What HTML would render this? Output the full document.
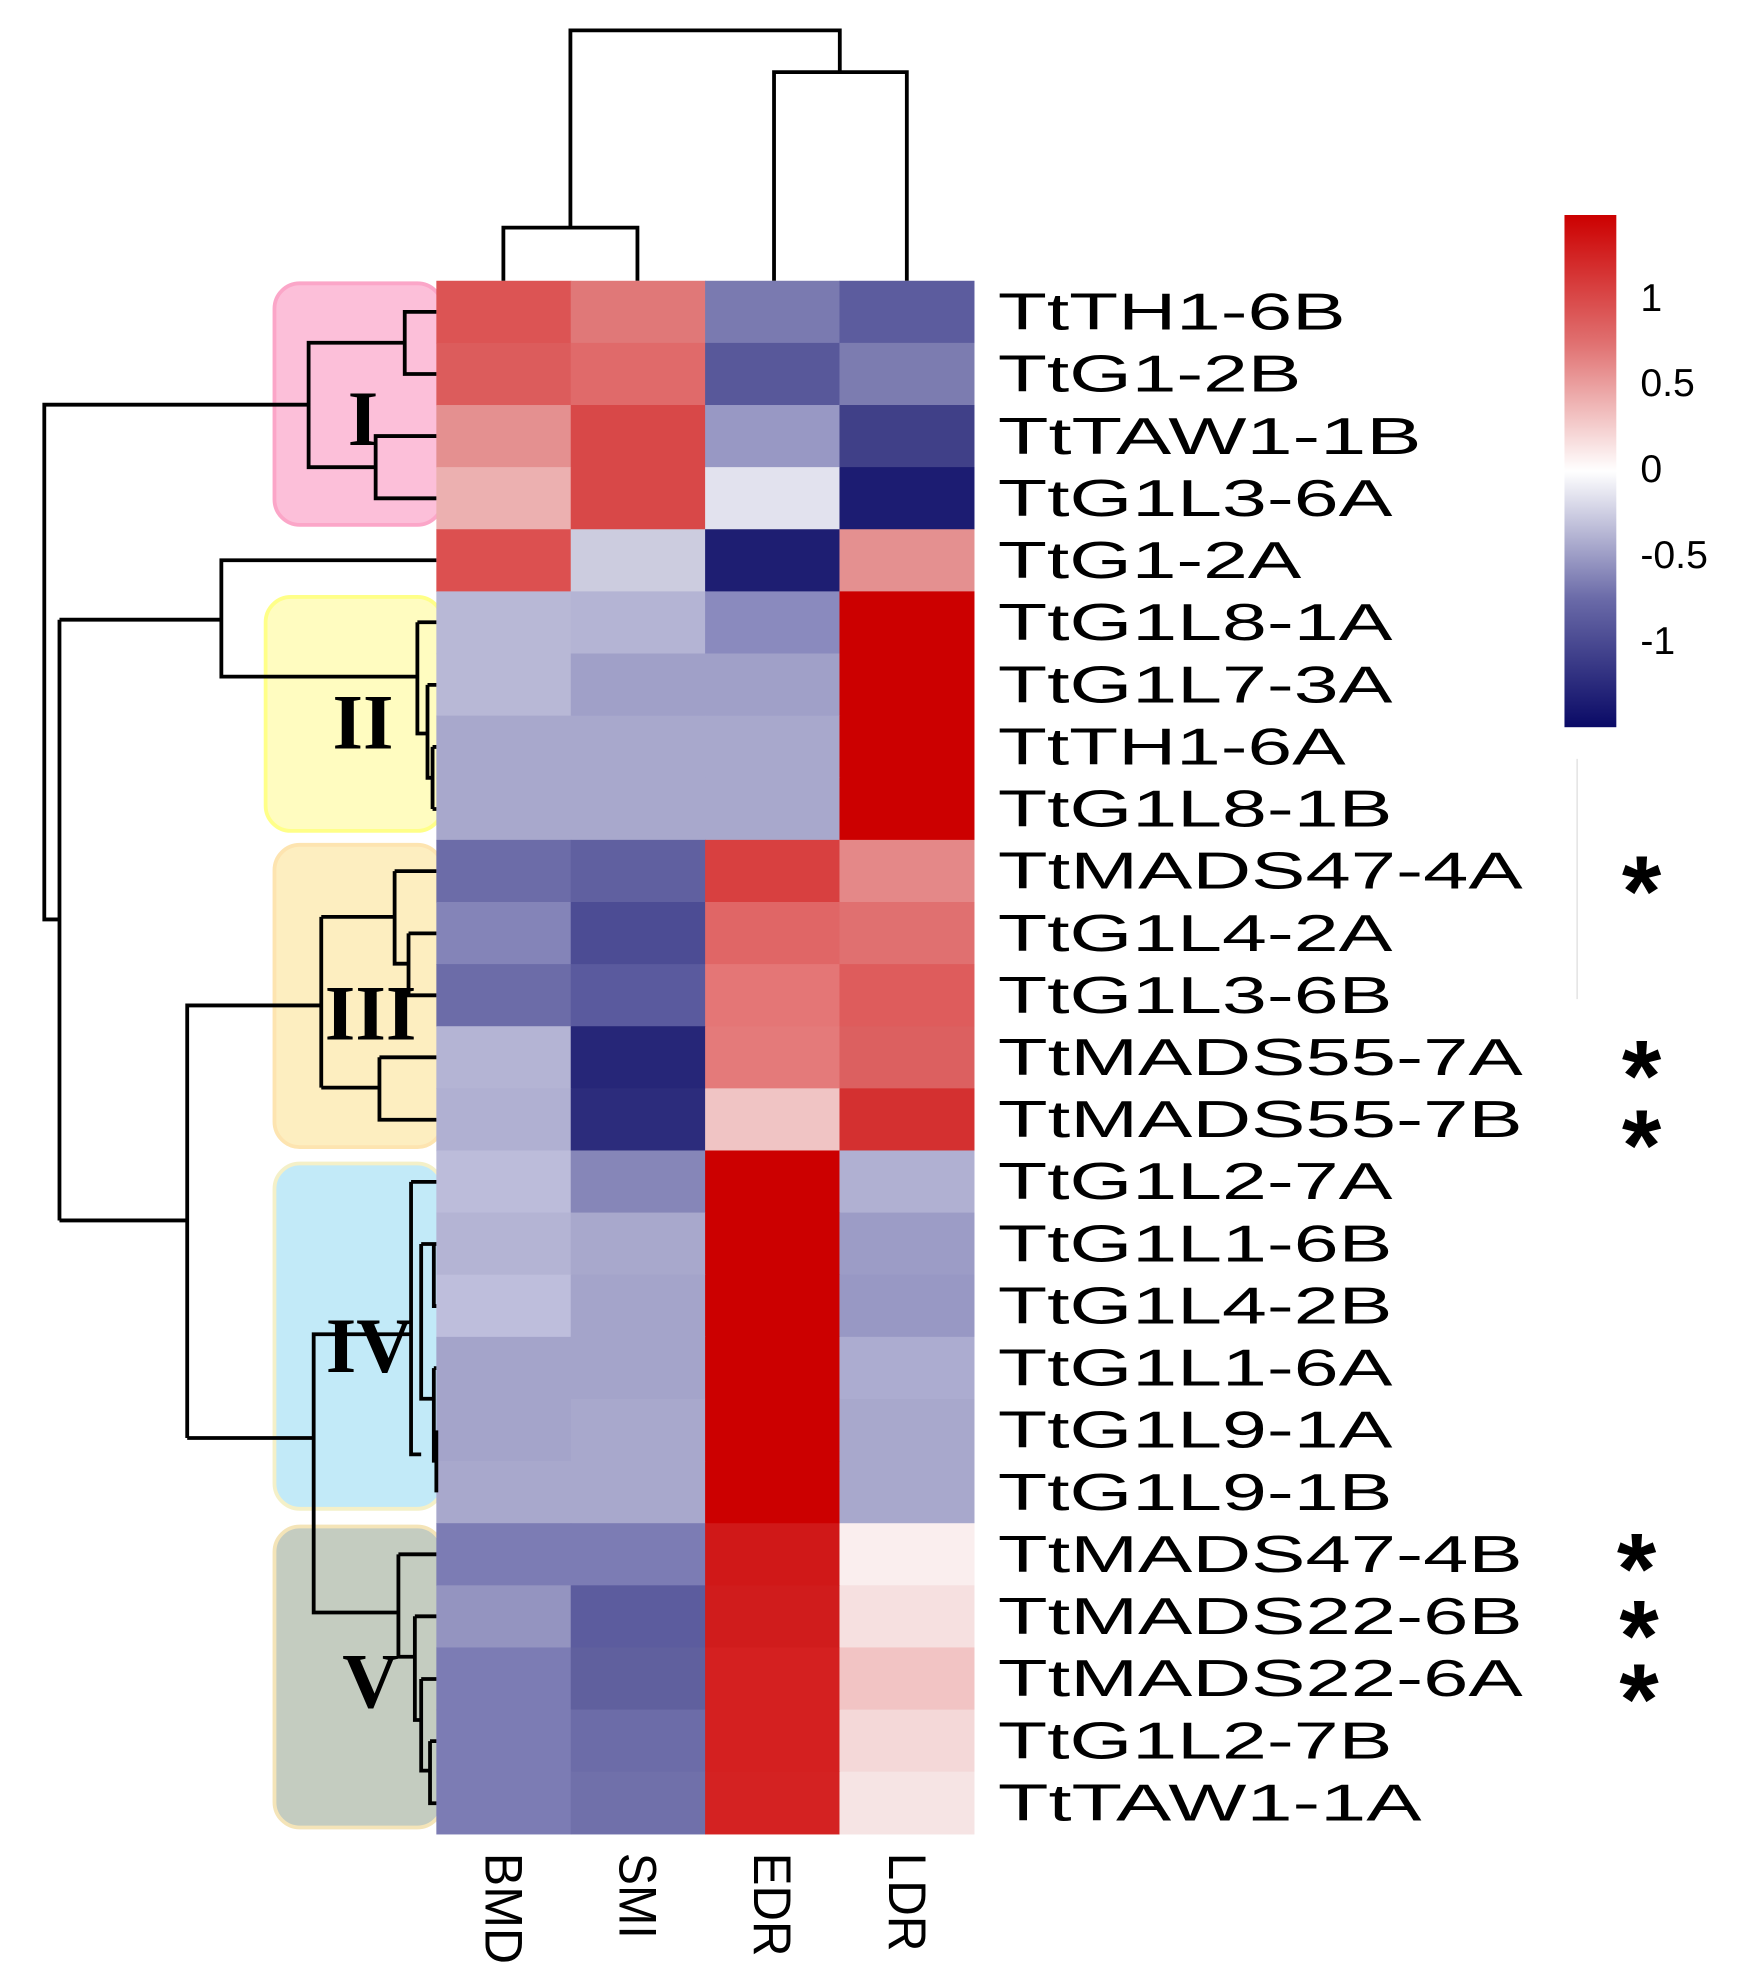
<!DOCTYPE html>
<html><head><meta charset="utf-8"><style>html,body{margin:0;padding:0;background:#fff}svg{display:block}</style></head>
<body>
<svg width="1758" height="1978" viewBox="0 0 1390 1564" xmlns="http://www.w3.org/2000/svg">
<g stroke-width="3">
<rect x="217" y="224" width="133" height="191" rx="20" fill="#fcbfd9" stroke="#fba6c8"/>
<rect x="210" y="472" width="140" height="185" rx="20" fill="#fffcc0" stroke="#ffff88"/>
<rect x="217" y="668" width="133" height="239" rx="20" fill="#fdeec0" stroke="#fde4b0"/>
<rect x="217" y="920" width="133" height="273" rx="20" fill="#c2eaf8" stroke="#f4f0c8"/>
<rect x="217" y="1207" width="133" height="238" rx="20" fill="#c4ccc0" stroke="#f4e4b8"/>
</g>
<g font-family="'Liberation Serif',serif" font-weight="bold" font-size="62" text-anchor="middle" fill="#000">
<text x="287" y="352">I</text><text x="287" y="592">II</text><text x="293" y="822">III</text><text x="292" y="1085">IV</text><text x="293" y="1350">V</text>
</g>
<g id="hm"></g>
<g fill="none" stroke="#000" stroke-width="3">
<path d="M398 222V180H504V222M612 222V57H717V222M451 180V24H664V57"/>
<path d="M345 246.6H320V295.7H345M345 344.8H297V394H345M320 271H244V369.4H297M244 320H35V727H47"/>
<path d="M47 490V965M47 490H175V443H345M175 443V535H330M330 492H345M330 492V580H338M338 541.5H345M338 541.5V615H342M342 590.6H345M342 639.7H345M342 590.6V639.7"/>
<path d="M47 965H148V795H254M148 965V1137M254 725V860M254 725H312M312 688.8H345M312 688.8V762H323M323 738H345M323 738V787H345M254 860H300M300 836H345M300 836V885.4H345"/>
<path d="M148 1137H248V1055H325M248 1137V1275H315M325 934.5H345M325 934.5V1150H333M333 983.6H343V1032.7H345M343 983.6H345M333 983.6V1106H343M343 1081.8H345M343 1081.8V1155H345M345 1131V1180"/>
<path d="M315 1229H345M315 1229V1310H328M328 1278H345M328 1278V1360H333M333 1327.6H345M333 1327.6V1400H340M340 1376.7H345M340 1376.7V1425.8H345"/>
</g>
<g font-family="'Liberation Sans',sans-serif" font-size="41" fill="#000" id="lbl"></g>
<g font-family="'Liberation Sans',sans-serif" font-size="42" fill="#000">
<text transform="translate(384,1465) rotate(90)" textLength="88" lengthAdjust="spacingAndGlyphs">BMD</text>
<text transform="translate(490,1465) rotate(90)" textLength="68" lengthAdjust="spacingAndGlyphs">SMI</text>
<text transform="translate(596,1465) rotate(90)" textLength="82" lengthAdjust="spacingAndGlyphs">EDR</text>
<text transform="translate(703,1465) rotate(90)" textLength="78" lengthAdjust="spacingAndGlyphs">LDR</text>
</g>
<defs><linearGradient id="cb" x1="0" y1="0" x2="0" y2="1">
<stop offset="0" stop-color="#cc0000"/><stop offset="0.25" stop-color="#e07070"/><stop offset="0.5" stop-color="#ffffff"/><stop offset="0.75" stop-color="#6a6aa8"/><stop offset="1" stop-color="#0a0a66"/></linearGradient></defs>
<rect x="1237" y="170" width="41" height="405" fill="url(#cb)"/>
<g font-family="'Liberation Sans',sans-serif" font-size="31" fill="#000">
<text x="1297" y="246">1</text><text x="1297" y="313">0.5</text><text x="1297" y="381">0</text><text x="1297" y="449">-0.5</text><text x="1297" y="517">-1</text>
</g>
<line x1="1247" y1="600" x2="1247" y2="790" stroke="#ddd" stroke-width="1"/>
<g font-family="'Liberation Sans',sans-serif" font-weight="bold" font-size="80" fill="#000" text-anchor="middle">
<text x="1298" y="732">*</text><text x="1298" y="878">*</text><text x="1298" y="933">*</text><text x="1294" y="1268">*</text><text x="1296" y="1321">*</text><text x="1296" y="1371">*</text>
</g>
<script>
var C=[["#dc5454","#e07878","#7a7ab0","#5c5c9e"],["#dc5c5c","#e06a6a","#58589a","#7c7cb0"],["#e49090","#d84848","#9898c4","#404088"],["#ecb0b0","#d84848","#e2e2ee","#1c1c72"],["#dc5050","#ccccdf","#1e1e72","#e49090"],["#b8b8d6","#b4b4d4","#8a8abe","#cc0000"],["#b8b8d6","#a0a0c8","#a0a0c8","#cc0000"],["#a8a8cc","#a8a8cc","#a8a8cc","#cc0000"],["#a8a8cc","#a8a8cc","#a8a8cc","#cc0000"],["#6c6ca8","#6060a0","#d84040","#e48888"],["#8484b8","#4c4c94","#e06666","#e07070"],["#6c6ca8","#5a5a9e","#e47676","#de5c5c"],["#b4b4d4","#262678","#e47a7a","#dc6060"],["#b0b0d2","#2c2c7c","#f0c4c4","#d43030"],["#bcbcda","#8686b8","#cc0000","#b0b0d2"],["#b4b4d4","#a8a8cc","#cc0000","#9c9cc6"],["#bebedc","#a4a4ca","#cc0000","#9898c4"],["#a4a4ca","#a4a4ca","#cc0000","#acacd0"],["#a4a4ca","#a8a8cc","#cc0000","#a8a8cc"],["#a8a8cc","#a8a8cc","#cc0000","#a8a8cc"],["#7c7cb4","#7c7cb4","#d01818","#faeeee"],["#9494c0","#5c5c9e","#d01c1c","#f6e0e0"],["#7c7cb4","#60609e","#d42020","#f2c4c4"],["#7c7cb4","#6c6ca8","#d42020","#f4d8d8"],["#7c7cb4","#7070aa","#d42222","#f6e4e4"]];
var L=[["TtTH1-6B",275],["TtG1-2B",240],["TtTAW1-1B",335],["TtG1L3-6A",312],["TtG1-2A",240],["TtG1L8-1A",312],["TtG1L7-3A",312],["TtTH1-6A",275],["TtG1L8-1B",312],["TtMADS47-4A",415],["TtG1L4-2A",312],["TtG1L3-6B",312],["TtMADS55-7A",415],["TtMADS55-7B",415],["TtG1L2-7A",312],["TtG1L1-6B",312],["TtG1L4-2B",312],["TtG1L1-6A",312],["TtG1L9-1A",312],["TtG1L9-1B",312],["TtMADS47-4B",415],["TtMADS22-6B",415],["TtMADS22-6A",415],["TtG1L2-7B",312],["TtTAW1-1A",335]];
var NS="http://www.w3.org/2000/svg",hm=document.getElementById("hm"),lb=document.getElementById("lbl");
var xs=[345,451.25,557.5,663.75,770],h=1228/25;
for(var r=0;r<25;r++){for(var c=0;c<4;c++){var e=document.createElementNS(NS,"rect");e.setAttribute("x",xs[c]);e.setAttribute("y",222+r*h);e.setAttribute("width",xs[c+1]-xs[c]+0.5);e.setAttribute("height",h+0.5);e.setAttribute("fill",C[r][c]);hm.appendChild(e);}
var t=document.createElementNS(NS,"text");t.setAttribute("x",789);t.setAttribute("y",222+r*h+h/2+14);t.setAttribute("textLength",L[r][1]);t.setAttribute("lengthAdjust","spacingAndGlyphs");t.textContent=L[r][0];lb.appendChild(t);}
</script>
</svg>
</body></html>
